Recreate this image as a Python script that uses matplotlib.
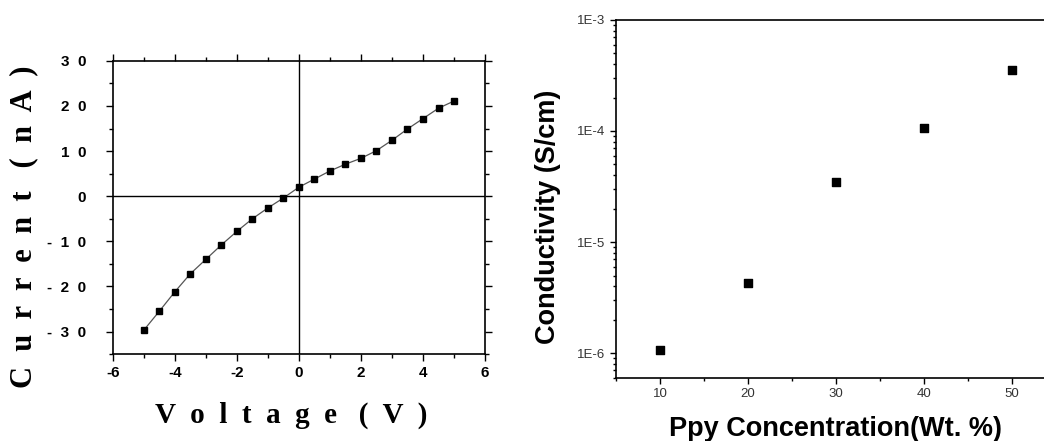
import matplotlib
matplotlib.use('Agg')
import matplotlib.pyplot as plt
from matplotlib.ticker import MultipleLocator, FixedLocator, LogLocator, NullFormatter

# I-V curve (left)
voltage = [-5, -4.5, -4, -3.5, -3, -2.5, -2, -1.5, -1, -0.5,
           0, 0.5, 1, 1.5, 2, 2.5, 3, 3.5, 4, 4.5, 5]
current = [-29.7, -25.5, -21.2, -17.2, -14.0, -10.8, -7.8, -5.0, -2.6, -0.4,
           2.0, 3.8, 5.6, 7.1, 8.4, 10.1, 12.4, 14.9, 17.2, 19.5, 21.1]

# conductivity vs Ppy (right)
ppy_conc = [10, 20, 30, 40, 50]
conductivity = [1.08e-6, 4.3e-6, 3.45e-5, 1.06e-4, 3.57e-4]
cond_ticks = [1e-6, 1e-5, 1e-4, 1e-3]
cond_labels = ['1E-6', '1E-5', '1E-4', '1E-3']

fig = plt.figure(figsize=(10.44, 4.41), dpi=100)

# ---- left panel ----
ax1 = fig.add_axes([0.108, 0.197, 0.3566, 0.665])
ax1.plot(voltage, current, color='#555555', lw=0.9, marker='s', ms=5,
         mfc='black', mec='black')
ax1.axhline(0, color='black', lw=1)
ax1.axvline(0, color='black', lw=1)
ax1.set_xlim(-6, 6)
ax1.set_ylim(-35, 30)
ax1.xaxis.set_major_locator(MultipleLocator(2))
ax1.xaxis.set_minor_locator(MultipleLocator(1))
ax1.yaxis.set_major_locator(MultipleLocator(10))
ax1.yaxis.set_minor_locator(MultipleLocator(5))
ax1.tick_params(which='both', direction='out', top=True, right=True, width=1)
ax1.tick_params(which='major', length=5)
ax1.tick_params(which='minor', length=3)
ax1.tick_params(axis='y', which='major', pad=14)
for s in ax1.spines.values():
    s.set_linewidth(1.2)

xt = [-6, -4, -2, 0, 2, 4, 6]
ax1.set_xticks(xt)
ax1.set_xticklabels([str(v) for v in xt], fontsize=11, fontweight='bold',
                    family='Liberation Sans')
yt = [-30, -20, -10, 0, 10, 20, 30]
ax1.set_yticks(yt)
ax1.set_yticklabels(['  '.join(str(v)) for v in yt], fontsize=11, fontweight='bold',
                    family='Liberation Sans')
ax1.set_xlabel('V  o  l  t  a  g  e   (  V  )', fontsize=21, fontweight='bold',
               family='Liberation Serif', va='center')
ax1.xaxis.set_label_coords(0.48, -0.21)
ax1.set_ylabel('C  u  r  r  e  n  t   (  n  A  )', fontsize=22, fontweight='bold',
               family='Liberation Serif', va='center')
ax1.yaxis.set_label_coords(-0.24, 0.435)

# ---- right panel ----
ax2 = fig.add_axes([0.590, 0.143, 0.421, 0.812])
ax2.scatter(ppy_conc, conductivity, marker='s', s=40, color='black', zorder=3)
ax2.set_yscale('log')
ax2.set_xlim(5, 55)
ax2.set_ylim(6e-7, 1e-3)
ax2.xaxis.set_major_locator(MultipleLocator(10))
ax2.xaxis.set_minor_locator(MultipleLocator(5))
ax2.yaxis.set_major_locator(FixedLocator(cond_ticks))
ax2.set_yticklabels(cond_labels, fontsize=9.5, color='#333333', family='Liberation Sans')
ax2.yaxis.set_minor_locator(LogLocator(base=10, subs=range(2, 10)))
ax2.yaxis.set_minor_formatter(NullFormatter())
for lbl in ax2.get_xticklabels():
    lbl.set_fontsize(9.5)
    lbl.set_color('#333333')
    lbl.set_family('Liberation Sans')
ax2.tick_params(which='both', direction='out', width=1)
ax2.tick_params(which='major', length=4)
ax2.tick_params(which='minor', length=2.5)
for s in ax2.spines.values():
    s.set_linewidth(1.2)
ax2.spines['right'].set_visible(False)
ax2.set_xlabel('Ppy Concentration(Wt. %)', fontsize=19.5, fontweight='bold',
               family='Liberation Sans', va='center')
ax2.xaxis.set_label_coords(0.5, -0.143)
ax2.set_ylabel('Conductivity (S/cm)', fontsize=19.5, fontweight='bold',
               family='Liberation Sans', va='center')
ax2.yaxis.set_label_coords(-0.155, 0.45)

fig.savefig('out.png', dpi=100)
